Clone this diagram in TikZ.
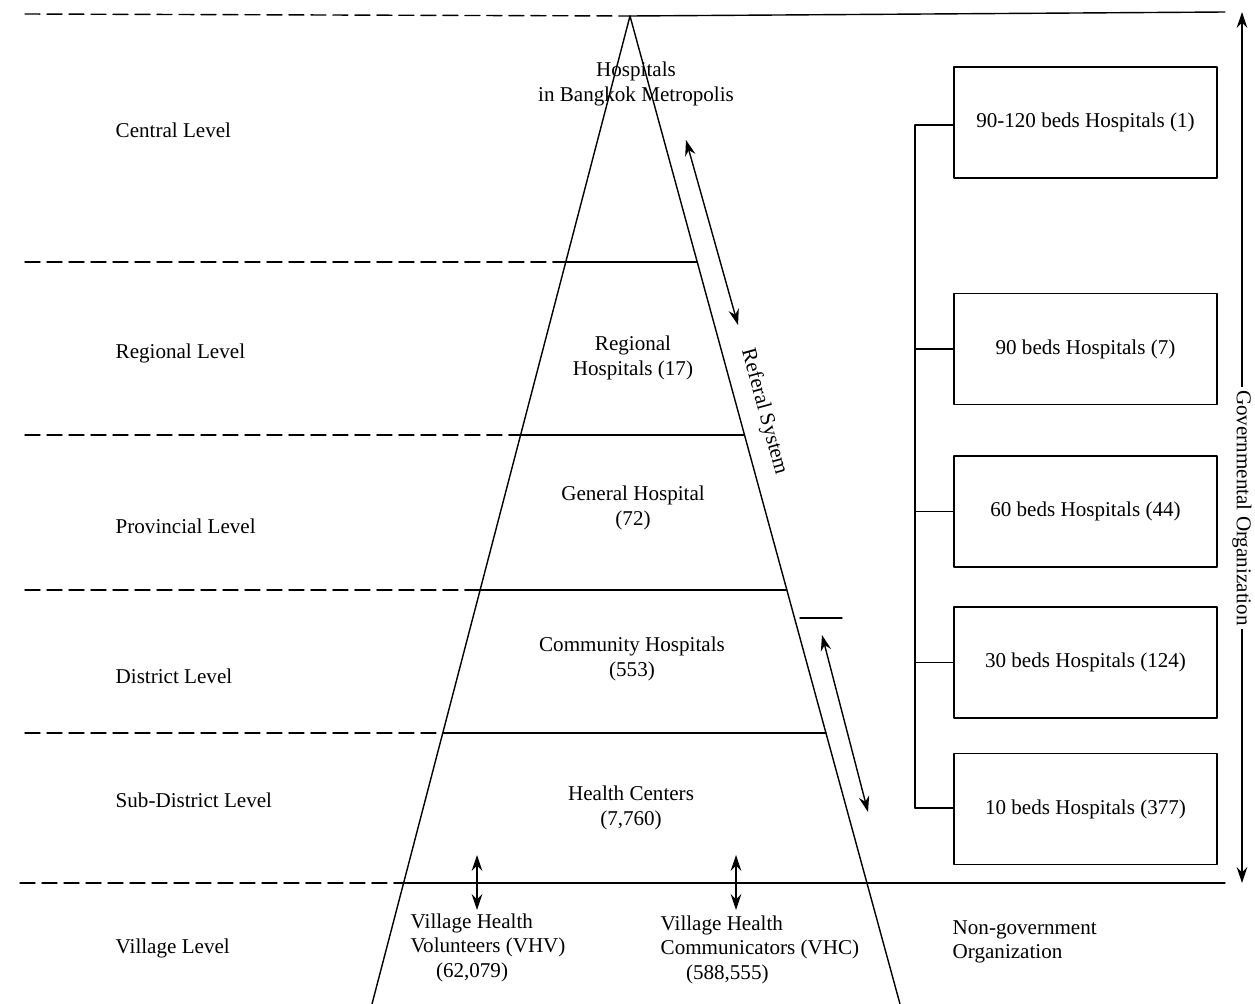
\documentclass[tikz,border=0pt]{standalone}
\usepackage{fontspec}
\setmainfont{Liberation Serif}
\usepackage{tikz}
\usetikzlibrary{arrows.meta}
\usetikzlibrary{positioning}

\tikzset{
  lvl/.style={anchor=west,inner sep=0pt},
  tier/.style={align=center,inner sep=0pt},
  bedbox/.style={draw,minimum width=5.26cm,minimum height=2.22cm,inner sep=0pt},
  levline/.style={dash pattern=on 0.3cm off 0.14cm},
}

\begin{document}
\begin{tikzpicture}[line cap=round,line join=round,line width=0.8pt,
    >={Stealth[length=9pt,width=6pt,inset=3pt]},x=0.02cm,y=-0.02cm,
    font=\fontsize{12}{14}\selectfont]
      \useasboundingbox (0,0) rectangle (1255,1004);
      % pyramid
      \coordinate (apex) at (630,16);
      \coordinate (bl) at (372,1004);
      \coordinate (br) at (900,1004);
      \draw (bl) -- (apex) -- (br);
      % top and bottom lines
      \draw[levline] (25,14) -- (apex);
      \draw (apex) -- (1225,12);
      \draw[levline] (20,883) -- (403.6,883);
      \draw (403.6,883) -- (1225,883);
      % level lines
      \foreach \y/\l/\r in {262/565.8/697.2,435/520.6/744.5,590/480.1/786.9,733/442.7/825.9}
      {
      \draw[levline] (25,\y) -- (\l,\y);
      \draw (\l,\y) -- (\r,\y);
      }
      \draw (800,618) -- (842,618);
      % level names
      \node[lvl] (central) at (115,130) {Central Level};
      \node[lvl] (regional) at (115,353) {Regional Level};
      \node[lvl] (provincial) at (115,526) {Provincial Level};
      \node[lvl] (district) at (115,676) {District Level};
      \node[lvl] (subdistrict) at (115,800) {Sub-District Level};
      \node[lvl] (village) at (115,948) {Village Level};
      % tiers of the pyramid
      \node[tier] (bangkok) at (636,84) {Hospitals\\in Bangkok Metropolis};
      \node[tier] (reghosp) at (633,358) {Regional\\Hospitals (17)};
      \node[tier] (genhosp) at (633,508) {General Hospital\\(72)};
      \node[tier] (comhosp) at (632,659) {Community Hospitals\\(553)};
      \node[tier] (healthc) at (631,808) {Health Centers\\(7,760)};
      \node[anchor=north west,align=left,inner sep=0pt] (vhv) at (410,913)
        {Village Health\\Volunteers (VHV)\\\hspace*{1.2em}(62,079)};
      \node[anchor=north west,align=left,inner sep=0pt] (vhc) at (660,915)
        {Village Health\\Communicators (VHC)\\\hspace*{1.2em}(588,555)};
      \coordinate (vhvtop) at (477,855);
      \coordinate (vhvbot) at (477,910);
      \coordinate (vhctop) at (736,855);
      \coordinate (vhcbot) at (736,910);
      \draw[<->] (vhvtop) -- (vhvbot);
      \draw[<->] (vhctop) -- (vhcbot);
      % referral system
      \coordinate (refa) at (686,140);
      \coordinate (refb) at (738,325);
      \coordinate (refc) at (822,635);
      \coordinate (refd) at (868,812);
      \draw[<->] (refa) -- (refb);
      \draw[<->] (refc) -- (refd);
      \node[rotate=-74.7,inner sep=0pt] (referal) at (764,412) {Referal System};
      % bed-size hospitals
      \node[bedbox] (b120) at (1085.5,122.5) {90-120 beds Hospitals (1)};
      \node[bedbox] (b90) at (1085.5,349) {90 beds Hospitals (7)};
      \node[bedbox] (b60) at (1085.5,511.5) {60 beds Hospitals (44)};
      \node[bedbox] (b30) at (1085.5,662.5) {30 beds Hospitals (124)};
      \node[bedbox] (b10) at (1085.5,809) {10 beds Hospitals (377)};
      \coordinate (brtop) at (915,125);
      \coordinate (brbot) at (915,808);
      \draw (brtop) -- (brbot);
      \draw (brtop) -- (b120.west |- brtop);
      \foreach \b in {b90,b60,b30}
      \draw (brtop |- \b.west) -- (\b.west);
      \draw (brbot) -- (b10.west |- brbot);
      % organizations
      \coordinate (gtop) at (1242,12);
      \coordinate (gbot) at (1242,883);
      \draw[<->] (gtop) -- (gbot);
      \node[rotate=-90,fill=white,inner sep=2pt] (gov) at (1242,508) {Governmental Organization};
      \node[anchor=west,align=left,inner sep=0pt] (nongov) at (952,942) {Non-government\\Organization};
\end{tikzpicture}
\end{document}
